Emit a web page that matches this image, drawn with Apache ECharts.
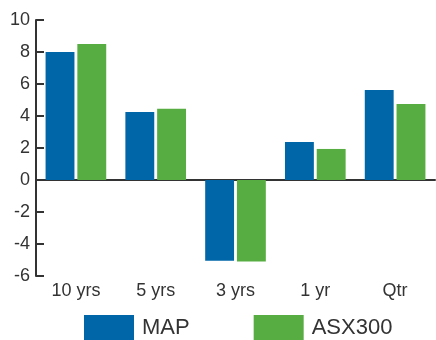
<!DOCTYPE html>
<html>
<head>
<meta charset="utf-8">
<script src="https://cdn.jsdelivr.net/npm/echarts@6/dist/echarts.min.js"></script>
<style>
  html, body { margin: 0; padding: 0; background: #fff; }
  #chart { width: 436px; height: 340px; }
</style>
</head>
<body>
<div id="chart"></div>
<script>
// 数据
var categories = ["10 yrs", "5 yrs", "3 yrs", "1 yr", "Qtr"];
var mapValues = [8.0, 4.25, -5.05, 2.38, 5.63];
var asxValues = [8.5, 4.45, -5.1, 1.94, 4.75];

var chart = echarts.init(document.getElementById("chart"));
var font = "Liberation Sans, Arial, sans-serif";

chart.setOption({
  animation: false,
  grid: { left: 36, right: 1, top: 20, bottom: 64 },
  legend: {
    bottom: -1,
    left: 84,
    padding: 0,
    itemWidth: 50,
    itemHeight: 26,
    itemGap: 64,
    icon: "rect",
    textStyle: { fontFamily: font, fontSize: 22, color: "#333", padding: [0, 0, 0, 3] },
    data: ["MAP", "ASX300"]
  },
  xAxis: {
    type: "category",
    data: categories,
    axisLine: { lineStyle: { color: "#333", width: 2 } },
    axisTick: { inside: true, length: 6, lineStyle: { color: "#333", width: 2 } },
    axisLabel: { fontFamily: font, fontSize: 18, color: "#333", margin: 6, interval: 0 }
  },
  yAxis: {
    type: "value",
    min: -6,
    max: 10,
    interval: 2,
    splitLine: { show: false },
    axisLine: { show: true, lineStyle: { color: "#333", width: 2 } },
    axisTick: { show: true, inside: true, length: 8, lineStyle: { color: "#333", width: 2 } },
    axisLabel: { fontFamily: font, fontSize: 18, color: "#333", margin: 6 }
  },
  series: [
    {
      name: "MAP",
      type: "bar",
      data: mapValues,
      barCategoryGap: "24%",
      barGap: "10%",
      itemStyle: { color: "#0066a8" }
    },
    {
      name: "ASX300",
      type: "bar",
      data: asxValues,
      itemStyle: { color: "#57ad42" }
    }
  ]
});
</script>
</body>
</html>
